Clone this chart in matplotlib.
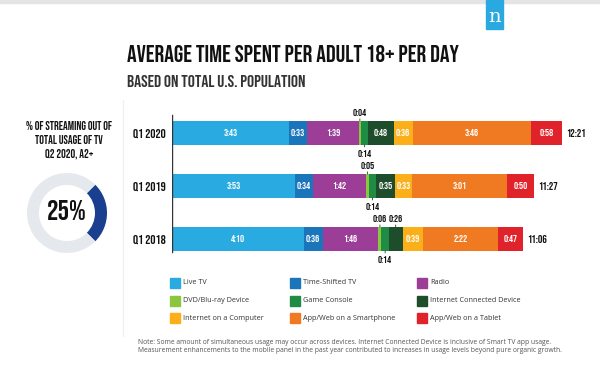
import matplotlib.pyplot as plt
from matplotlib.patches import Rectangle

# data (minutes per day)
years = ['Q1 2020', 'Q1 2019', 'Q1 2018']
totals = ['12:21', '11:27', '11:06']
categories = ['Live TV', 'Time-Shifted TV', 'Radio', 'DVD/Blu-ray Device', 'Game Console',
              'Internet Connected Device', 'Internet on a Computer', 'App/Web on a Smartphone',
              'App/Web on a Tablet']
live_tv = [223, 233, 250]
time_shifted = [33, 34, 36]
radio = [99, 102, 106]
dvd = [4, 5, 6]
game_console = [14, 14, 14]
connected_device = [48, 35, 26]
computer = [36, 33, 39]
smartphone = [226, 181, 142]
tablet = [58, 50, 47]
streaming_share = [25, 75]

colors = ['#29abe2', '#1b75bb', '#9c3d97', '#8cc63f', '#1f8c45', '#1e4d2b',
          '#fbb01a', '#f07a22', '#e0222b']
series = [live_tv, time_shifted, radio, dvd, game_console, connected_device,
          computer, smartphone, tablet]

HEAD = ['Bebas Neue', 'DejaVu Sans']
BODY = ['Open Sans', 'DejaVu Sans']

def fmt(m):
    return '%d:%02d' % (m // 60, m % 60)

W, H = 600, 366
fig = plt.figure(figsize=(6, 3.66), dpi=100)

# top shadow + logo
fig.patches.append(Rectangle((0, 1 - 3 / H), 1, 3 / H, transform=fig.transFigure,
                             color='#e4e4e4', zorder=0))
fig.patches.append(Rectangle((486 / W, 1 - 29 / H), 17 / W, 29 / H, transform=fig.transFigure,
                             color='#29a9e0'))
fig.text(494.5 / W, 1 - 17 / H, 'n', color='white', fontsize=14, family='DejaVu Serif',
         ha='center', va='center')

# titles
fig.text(127 / W, 1 - 53 / H, 'AVERAGE TIME SPENT PER ADULT 18+ PER DAY', family=HEAD,
         fontsize=17.3, va='center', ha='left', color='#111111')
fig.text(127 / W, 1 - 81 / H, 'BASED ON TOTAL U.S. POPULATION', family=HEAD,
         fontsize=12.6, va='center', ha='left', color='#333333')

# left panel
for i, line in enumerate(['% OF STREAMING OUT OF', 'TOTAL USAGE OF TV', 'Q2 2020, A2+']):
    fig.text(69 / W, 1 - (126 + 14 * i) / H, line, family=HEAD, fontsize=8.5,
             ha='center', va='center', color='#111111')
fig.lines.append(plt.Line2D([123 / W, 123 / W], [1 - 100 / H, 1 - 336 / H],
                            transform=fig.transFigure, color='#f0f0f0', lw=1))

dax = fig.add_axes([27 / W, 1 - 253 / H, 80 / W, 80 / H])
dax.pie(streaming_share, colors=['#1a3f8f', '#e5e9ee'], startangle=45, counterclock=False,
        wedgeprops=dict(width=0.3))
dax.set_xlim(-1, 1)
dax.set_ylim(-1, 1)
dax.set_aspect('equal')
dax.text(0, 0.08, '%d%%' % streaming_share[0], family=HEAD, fontsize=20.5,
         ha='center', va='center', color='#111111')

# bar chart
ax = fig.add_axes([172 / W, 1 - 266 / H, 428 / W, 158 / H])
ax.set_xlim(0, 428 / 0.5263)
ax.set_ylim(2.51, -0.47)
ax.axis('off')
ax.axvline(0, ymin=(266 - 252) / 158, ymax=(266 - 115) / 158, color='#333333', lw=1)

y = range(len(years))
left = [0] * len(years)
for k, (vals, col) in enumerate(zip(series, colors)):
    ax.barh(y, vals, left=left, height=0.45, color=col, edgecolor='none')
    for j, v in enumerate(vals):
        cx = left[j] + v / 2
        if v >= 30:
            ax.text(cx, j, fmt(v), color='white', family=HEAD, fontsize=7.3,
                    ha='center', va='center')
        else:
            # thin segments get their label outside the bar with a leader line
            above = k != 4
            sign = -1 if above else 1
            ax.annotate(fmt(v), xy=(cx, j + sign * 0.225), xytext=(0, -sign * 3.5),
                        textcoords='offset points', family=HEAD, fontsize=7.3,
                        ha='center', va='bottom' if above else 'top', color='#111111',
                        arrowprops=dict(arrowstyle='-', lw=0.6, color='#333333',
                                        shrinkA=0, shrinkB=0))
    left = [a + b for a, b in zip(left, vals)]

for j in y:
    ax.text(left[j] + 8, j, totals[j], family=HEAD, fontsize=8,
            ha='left', va='center', color='#111111')
    ax.text(-11, j, years[j], family=HEAD, fontsize=9.3, ha='right', va='center',
            color='#111111')

# legend
col_x = [170, 290, 417]
row_y = [283, 301, 318]
for k, (name, col) in enumerate(zip(categories, colors)):
    cx, cy = col_x[k % 3], row_y[k // 3]
    fig.patches.append(Rectangle((cx / W, 1 - (cy + 5) / H), 10 / W, 10 / H,
                                 transform=fig.transFigure, color=col))
    fig.text((cx + 13) / W, 1 - cy / H, name, fontsize=5.2, ha='left', va='center',
             family=BODY, color='#333333')

fig.text(138 / W, 1 - 343 / H,
         'Note: Some amount of simultaneous usage may occur across devices. Internet Connected '
         'Device is inclusive of Smart TV app usage.', fontsize=4.9, color='#555555',
         family=BODY, va='center')
fig.text(138 / W, 1 - 351 / H,
         'Measurement enhancements to the mobile panel in the past year contributed to increases '
         'in usage levels beyond pure organic growth.', fontsize=4.9, color='#555555',
         family=BODY, va='center')

fig.savefig('out.png', dpi=100, facecolor='white')
